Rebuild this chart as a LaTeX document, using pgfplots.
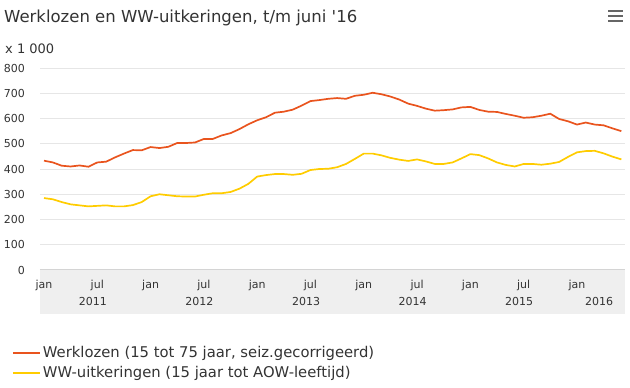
\documentclass[border=0pt]{standalone}
\usepackage{fontspec}
\setmainfont{DejaVu Sans}[Ligatures=TeXOff]
\usepackage{pgfplots}
\pgfplotsset{compat=1.18}
\usepackage{pgfplotstable}
\definecolor{wkorange}{HTML}{E9541E}
\definecolor{wwyellow}{HTML}{FFCC00}
\definecolor{txt}{HTML}{333333}
\definecolor{gridc}{HTML}{E6E6E6}
\definecolor{bandc}{HTML}{EFEFEF}
\definecolor{zeroc}{HTML}{D4D4D4}
\definecolor{menuc}{HTML}{666666}

\pgfplotstableread{
m wk ww
0 433 285
1 426 280
2 413 269
3 410 260
4 414 256
5 409 252
6 426 254
7 429 256
8 446 252
9 461 252
10 475 257
11 474 269
12 487 292
13 483 300
14 488 296
15 503 292
16 503 291
17 505 291
18 519 298
19 519 304
20 533 304
21 542 309
22 558 322
23 577 341
24 593 370
25 605 376
26 623 380
27 627 380
28 635 377
29 651 381
30 669 396
31 673 400
32 678 401
33 681 407
34 678 420
35 690 440
36 694 461
37 702 461
38 696 454
39 687 444
40 675 437
41 659 432
42 650 438
43 639 430
44 631 420
45 633 420
46 636 426
47 644 442
48 646 459
49 634 455
50 627 442
51 626 426
52 618 416
53 611 410
54 603 420
55 605 420
56 611 417
57 619 421
58 598 428
59 589 448
60 576 466
61 584 471
62 576 472
63 573 462
64 561 449
65 550 438
}\data

\begin{document}
\begin{tikzpicture}[x=1pt,y=1pt]
\path[use as bounding box] (0,0) rectangle (630,388);
\fill[bandc] (40,74) rectangle (625,118);
\node[anchor=base west, inner sep=0pt, font=\fontsize{16.5}{19}\selectfont, text=txt] at (4,365) {Werklozen en WW-uitkeringen, t/m juni '16};
\node[anchor=base west, inner sep=0pt, font=\fontsize{13}{16}\selectfont, text=txt] at (5,334) {x 1 000};
\fill[menuc] (608,376) rectangle (623,378);
\fill[menuc] (608,371) rectangle (623,373);
\fill[menuc] (608,366) rectangle (623,368);
\begin{axis}[
  at={(40pt,118pt)}, anchor=south west,
  width=585pt, height=202pt, scale only axis,
  xmin=-0.45, xmax=65.41, ymin=0, ymax=800,
  ytick={0,100,...,800},
  xtick={0,6,...,60},
  xticklabels={jan,jul,jan,jul,jan,jul,jan,jul,jan,jul,jan},
  ymajorgrids, grid style={gridc, line width=1pt},
  axis line style={draw=none},
  major tick length=0pt, tick style={draw=none},
  /pgf/number format/assume math mode=true,
  yticklabel style={font=\fontsize{11}{13}\selectfont, text=txt, anchor=east, inner sep=0pt, xshift=-15pt},
  xticklabel style={font=\fontsize{11}{13}\selectfont, text=txt, anchor=base, inner sep=0pt, yshift=-19pt},
  clip=false,
  legend style={at={(-0.0479,-0.46)}, anchor=west, draw=none, fill=none,
    font=\fontsize{14.8}{17}\selectfont, text=txt, inner sep=0pt, row sep=3pt},
  legend cell align=left,
  legend image code/.code={\path (0pt,0pt) -- (27pt,0pt); \draw[#1] (0pt,0pt) -- (21pt,0pt);},
]
\draw[zeroc, line width=1pt] (rel axis cs:0,0) -- (rel axis cs:1,0);
\addplot[wkorange, line width=1.7pt, line join=round, no marks] table[x=m,y=wk] {\data};
\addlegendentry{Werklozen (15 tot 75 jaar, seiz.gecorrigeerd)}
\addplot[wwyellow, line width=1.7pt, line join=round, no marks] table[x=m,y=ww] {\data};
\addlegendentry{WW-uitkeringen (15 jaar tot AOW-leeftijd)}
\foreach \yr/\pos in {2011/5.5,2012/17.5,2013/29.5,2014/41.5,2015/53.5,2016/62.5}{
  \edef\tmp{\noexpand\node[anchor=base, inner sep=0pt, font=\noexpand\fontsize{11}{13}\noexpand\selectfont, text=txt] at (axis cs:\pos,0) [yshift=-35.5pt] {\yr};}
  \tmp
}
\end{axis}
\end{tikzpicture}
\end{document}
